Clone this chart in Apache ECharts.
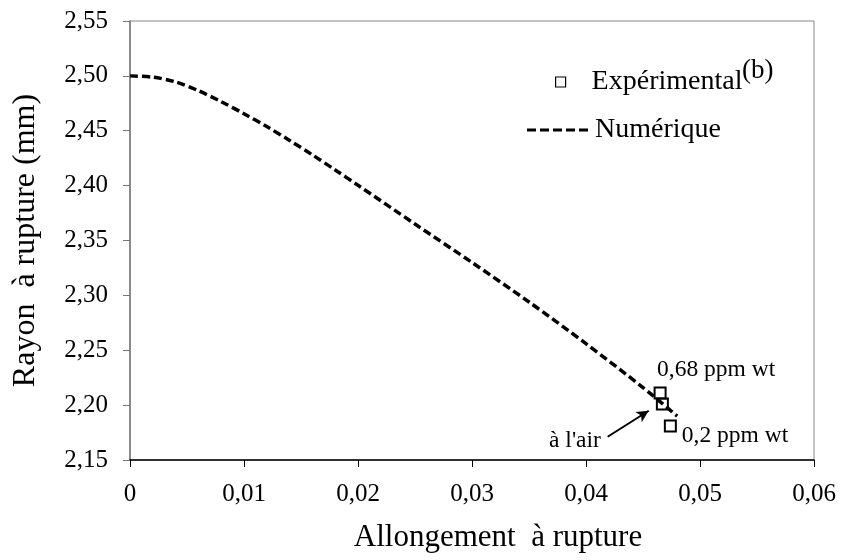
<!DOCTYPE html>
<html lang="fr">
<head>
    <meta charset="UTF-8" />
    <title>Rayon à rupture</title>
    <script src="https://cdn.jsdelivr.net/npm/echarts@6/dist/echarts.min.js"></script>
    <style>
        body { margin: 0; background: #fff; }
        #chart { width: 842px; height: 560px; }
    </style>
</head>
<body>
<div id="chart"></div>
<script>
    // courbe numérique
    const numX = [0, 0.002, 0.004, 0.006, 0.008, 0.010, 0.012, 0.014, 0.016, 0.018, 0.020, 0.025, 0.030, 0.035, 0.040, 0.045, 0.048];
    const numY = [2.500, 2.4988, 2.4945, 2.4865, 2.4765, 2.4655, 2.4538, 2.4412, 2.4280, 2.4143, 2.4003, 2.365, 2.330, 2.294, 2.256, 2.216, 2.190];

    // points expérimentaux
    const expX = [0.0465, 0.0467, 0.0474];
    const expY = [2.211, 2.201, 2.181];
    const expLabels = ['0,68 ppm wt', '', '0,2 ppm wt'];

    // flèche "à l'air"
    const arrowFrom = [0.0419, 2.1712];
    const arrowTo = [0.0455, 2.1949];

    const font = 'Liberation Serif';
    const fmt = v => v === 0 ? '0' : v.toFixed(2).replace('.', ',');

    const chart = echarts.init(document.getElementById('chart'));

    // tirets de la légende "Numérique"
    const dashIcon = 'path://M0,0h9v3h-9zM13,0h9v3h-9zM26,0h9v3h-9zM39,0h9v3h-9zM52,0h9v3h-9z';

    const option = {
        animation: false,
        title: {
            text: '(b)',
            left: 737,
            top: 52,
            textStyle: { fontFamily: font, fontSize: 27, fontWeight: 'normal', color: '#000' }
        },
        legend: [
            {
                left: 550,
                top: 63,
                itemWidth: 10,
                itemHeight: 10,
                textStyle: { fontFamily: font, fontSize: 28, color: '#000', padding: [0, 0, 0, 21] },
                data: [{ name: 'Expérimental', icon: 'rect', itemStyle: { color: '#fff', borderColor: '#000', borderWidth: 1.2, opacity: 1 } }]
            },
            {
                left: 522,
                top: 111,
                itemWidth: 61,
                itemHeight: 3,
                textStyle: { fontFamily: font, fontSize: 28, color: '#000', padding: [0, 0, 0, 2] },
                data: [{ name: 'Numérique', icon: dashIcon, itemStyle: { color: '#000' } }]
            }
        ],
        grid: {
            left: 130, right: 28, top: 21, bottom: 100,
            show: true, borderColor: '#888', borderWidth: 1
        },
        xAxis: {
            type: 'value',
            min: 0, max: 0.06, interval: 0.01,
            name: 'Allongement  à rupture',
            nameLocation: 'middle',
            nameGap: 62,
            nameTextStyle: { fontFamily: font, fontSize: 31, color: '#000', padding: [0, 0, 0, 52] },
            axisLine: { lineStyle: { color: '#000', width: 1.5 } },
            axisTick: { inside: false, length: 7, lineStyle: { color: '#000' } },
            axisLabel: { fontFamily: font, fontSize: 25, color: '#000', margin: 22, formatter: fmt },
            splitLine: { show: false }
        },
        yAxis: {
            type: 'value',
            min: 2.15, max: 2.55, interval: 0.05,
            name: 'Rayon  à rupture (mm)',
            nameLocation: 'middle',
            nameGap: 88,
            nameTextStyle: { fontFamily: font, fontSize: 32, color: '#000' },
            axisLine: { show: true, lineStyle: { color: '#777', width: 1.5 } },
            axisTick: { show: true, inside: false, length: 7, lineStyle: { color: '#777' } },
            axisLabel: { fontFamily: font, fontSize: 25, color: '#000', margin: 22, formatter: v => v.toFixed(2).replace('.', ',') },
            splitLine: { show: false }
        },
        series: [
            {
                name: 'Numérique',
                type: 'line',
                symbol: 'none',
                showSymbol: false,
                smooth: 0.3,
                data: numX.map((x, i) => [x, numY[i]]),
                lineStyle: { color: '#000', width: 3.5, type: [8, 4] },
                itemStyle: { color: '#000' },
                z: 2
            },
            {
                name: 'Expérimental',
                type: 'scatter',
                symbol: 'rect',
                symbolSize: 11,
                itemStyle: { color: 'rgba(255,255,255,0)', borderColor: '#000', borderWidth: 2, opacity: 1 },
                data: expX.map((x, i) => ({
                    value: [x, expY[i]],
                    label: {
                        show: expLabels[i] !== '',
                        formatter: expLabels[i],
                        position: i === 0 ? 'top' : 'right',
                        align: 'left',
                        offset: i === 0 ? [-3, 0] : [0, 10],
                        fontFamily: font, fontSize: 23.5, color: '#000'
                    }
                })),
                markLine: {
                    silent: true,
                    symbol: ['none', 'arrow'],
                    symbolSize: [9, 12],
                    lineStyle: { color: '#000', width: 2, type: 'solid' },
                    label: {
                        show: true,
                        position: 'start',
                        distance: 8,
                        formatter: "à l'air",
                        fontFamily: font, fontSize: 23.5, color: '#000'
                    },
                    data: [[{ coord: arrowFrom }, { coord: arrowTo }]]
                },
                z: 3
            }
        ]
    };

    chart.setOption(option);
</script>
</body>
</html>
